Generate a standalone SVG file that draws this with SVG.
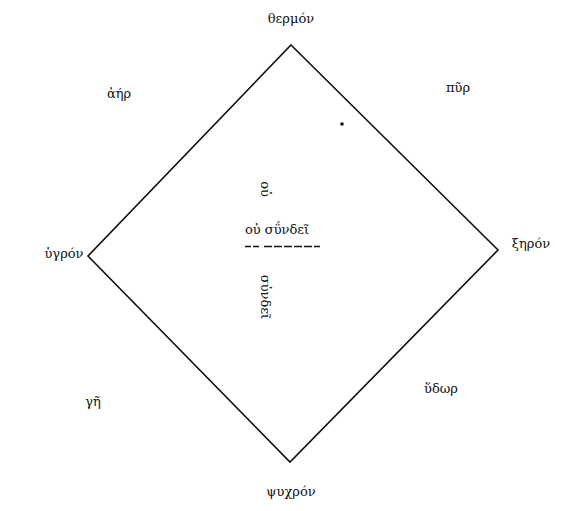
<svg xmlns="http://www.w3.org/2000/svg" width="565" height="511" viewBox="0 0 565 511">
<style>
text { font-family: "DejaVu Serif", "Liberation Serif", serif; font-size: 13px; fill: #111; }
.c { text-anchor: middle; }
.edge { fill: none; stroke: #111; stroke-width: 1.6; }
</style>
<rect width="565" height="511" fill="#fff"/>
<g id="connectors">
<path class="edge" d="M291,45 L498,250 L290,462 L88,256 Z"/>
<line x1="245" y1="246.5" x2="322" y2="246.5" stroke="#111" stroke-width="1.3" stroke-dasharray="6,2,6,5,8,2,8,2,8,2,8,2,8,2"/>
</g>
<g id="thermon"><text class="c" x="291" y="23">θερμόν</text></g>
<g id="psychron"><text class="c" x="291" y="496">ψυχρόν</text></g>
<g id="hygron"><text class="c" x="64" y="258">ὑγρόν</text></g>
<g id="xeron"><text class="c" x="531" y="248">ξηρόν</text></g>
<g id="aer"><text class="c" x="119" y="98">ἀήρ</text></g>
<g id="pyr"><text class="c" x="458" y="92">πῦρ</text></g>
<g id="ge"><text class="c" x="93" y="406">γῆ</text></g>
<g id="hydor"><text class="c" x="441" y="393">ὕδωρ</text></g>
<g id="center">
<text class="c" x="277" y="234">οὐ σΰνδεῖ</text>
<text class="c" transform="translate(261,189) rotate(90)">οὐ</text>
<text class="c" transform="translate(261,297) rotate(90)">σὐνδεῖ</text>
</g>
<circle cx="342" cy="124" r="1.8" fill="#111"/>
</svg>
